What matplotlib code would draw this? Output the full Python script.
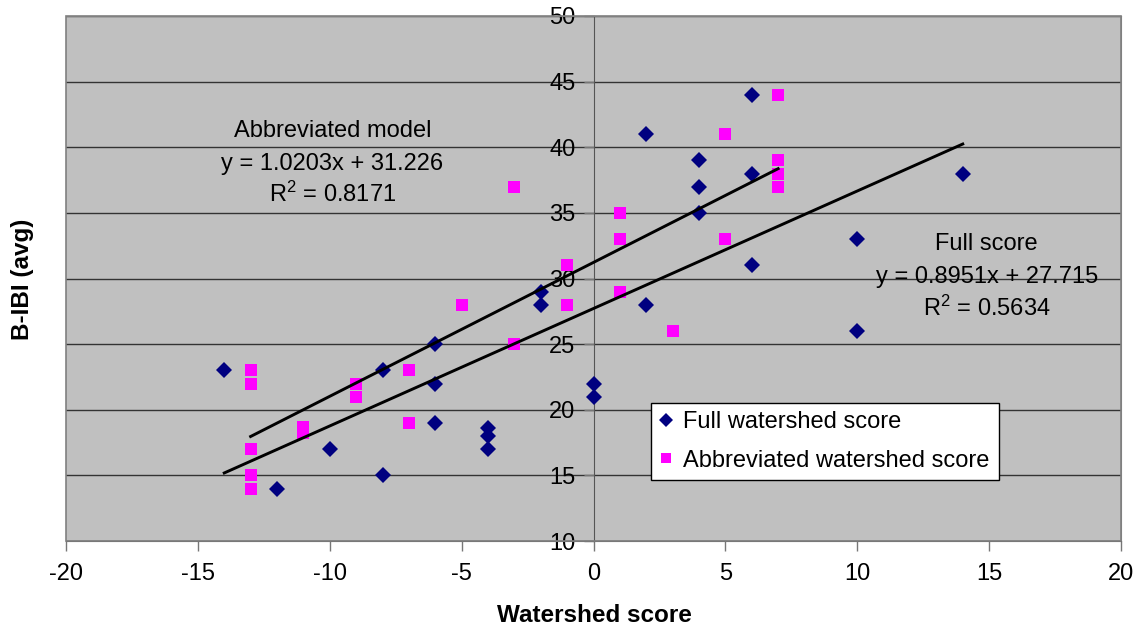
import numpy as np
import matplotlib
matplotlib.use('Agg')
import matplotlib.pyplot as plt
from matplotlib.patches import Rectangle

plt.rcParams['font.family'] = ['Liberation Sans', 'DejaVu Sans']
plt.rcParams['mathtext.fontset'] = 'custom'
plt.rcParams['mathtext.rm'] = 'Liberation Sans'
plt.rcParams['mathtext.it'] = 'Liberation Sans'
plt.rcParams['axes.unicode_minus'] = False

# full watershed score (navy diamonds)
full_x = [-14, -12, -10, -8, -8, -6, -6, -6, -4, -4, -4, -2, -2, 0, 0,
          2, 2, 4, 4, 4, 6, 6, 6, 10, 10, 14]
full_y = [23, 14, 17, 23, 15, 25, 22, 19, 18.6, 18, 17, 29, 28, 22, 21,
          41, 28, 39, 37, 35, 44, 38, 31, 33, 26, 38]

# abbreviated watershed score (magenta squares)
abbr_x = [-13, -13, -13, -13, -13, -11, -11, -9, -9, -7, -7, -5, -3, -3,
          -1, -1, 1, 1, 1, 3, 5, 5, 7, 7, 7, 7]
abbr_y = [23, 22, 17, 15, 14, 18.7, 18.2, 22, 21, 23, 19, 28, 37, 25,
          31, 28, 35, 33, 29, 26, 41, 33, 44, 39, 38, 37]

# trend line coefficients as printed on the chart
full_slope, full_icpt, full_r2 = 0.8951, 27.715, 0.5634
abbr_slope, abbr_icpt, abbr_r2 = 1.0203, 31.226, 0.8171

xticks = list(range(-20, 21, 5))
yticks = list(range(10, 51, 5))

W, H = 1143, 632
fig = plt.figure(figsize=(W / 100, H / 100), dpi=100)
ax = fig.add_axes([66 / W, 1 - 541 / H, 1055 / W, 525 / H])
ax.set_facecolor('#C0C0C0')
ax.set_xlim(-20, 20)
ax.set_ylim(10, 50)

ax.set_axisbelow(True)
ax.yaxis.grid(True, color='#333333', lw=1)
ax.set_xticks(xticks)
ax.set_yticks(yticks)
ax.tick_params(axis='both', labelsize=17, direction='out', length=7,
               color='#777777', width=1)
ax.tick_params(axis='x', pad=9)
ax.tick_params(axis='y', pad=6)

ax.spines['left'].set_position(('data', 0))
ax.spines['left'].set_color('#555555')
ax.spines['bottom'].set_color('#555555')
ax.spines['top'].set_color('#808080')
ax.spines['right'].set_color('#808080')
ax.add_patch(Rectangle((0, 0), 1, 1, transform=ax.transAxes, fill=False,
                       edgecolor='#808080', lw=1.2, zorder=5, clip_on=False))

ax.plot(full_x, full_y, 'D', color='#000080', ms=8.2, mew=0, zorder=3,
        label='Full watershed score')
ax.plot(abbr_x, abbr_y, 's', color='#FF00FF', ms=8, mew=0, zorder=3,
        label='Abbreviated watershed score')

fx = np.array([min(full_x), max(full_x)])
ax.plot(fx, full_slope * fx + full_icpt, color='black', lw=2.1, zorder=4)
axx = np.array([min(abbr_x), max(abbr_x)])
ax.plot(axx, abbr_slope * axx + abbr_icpt, color='black', lw=2.1, zorder=4)

fs = 17
ax.text(-9.9, 40.78, 'Abbreviated model', ha='center', va='baseline', fontsize=fs)
ax.text(-9.9, 38.3, f'y = {abbr_slope}x + {abbr_icpt}', ha='center', va='baseline', fontsize=fs)
ax.text(-9.9, 35.83, f'R$^2$ = {abbr_r2}', ha='center', va='baseline', fontsize=fs)

ax.text(14.91, 32.17, 'Full score', ha='center', va='baseline', fontsize=fs)
ax.text(14.91, 29.66, f'y = {full_slope}x + {full_icpt}', ha='center', va='baseline', fontsize=fs)
ax.text(14.91, 27.14, f'R$^2$ = {full_r2}', ha='center', va='baseline', fontsize=fs)

leg = ax.legend(loc='upper left', bbox_to_anchor=(0.5545, 0.118, 0.3295, 0.145),
                mode='expand', fontsize=17, frameon=True, fancybox=False,
                edgecolor='black', framealpha=1, handlelength=0.6,
                handletextpad=0.4, borderpad=0.35, labelspacing=0.7,
                markerscale=0.85, borderaxespad=0)
leg.get_frame().set_linewidth(1)

fig.text(594 / W, 1 - 615 / H, 'Watershed score', ha='center', va='center',
         fontsize=17.5, fontweight='bold')
fig.text(23 / W, 1 - 279 / H, 'B-IBI (avg)', ha='center', va='center',
         fontsize=17.5, fontweight='bold', rotation=90)

fig.savefig('out.png', dpi=100)
